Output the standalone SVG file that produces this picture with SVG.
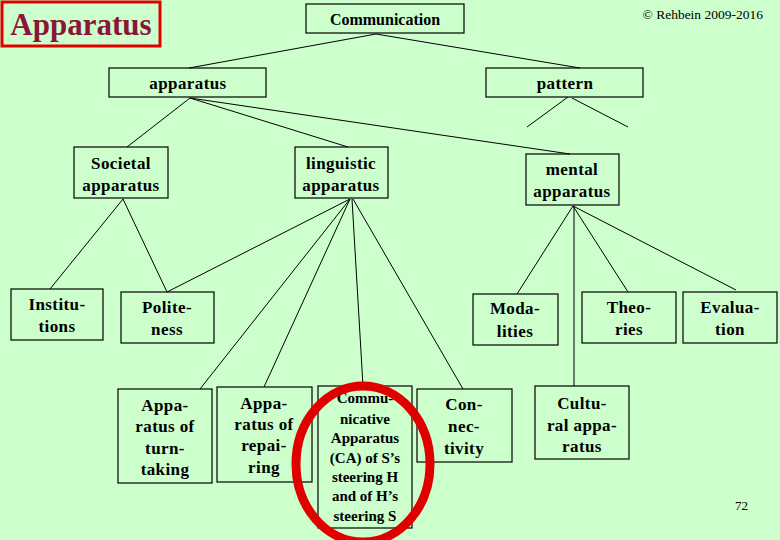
<svg xmlns="http://www.w3.org/2000/svg" width="780" height="540" viewBox="0 0 780 540">
<style>
.box{fill:none;stroke:#000;stroke-width:1.2}
.t{font-family:"Liberation Serif",serif;font-weight:bold;font-size:17px;letter-spacing:0.4px;text-anchor:middle;fill:#000}
.ca{font-family:"Liberation Serif",serif;font-weight:bold;font-size:15px;text-anchor:middle;fill:#000}
.c line{stroke:#000;stroke-width:1}
</style>
<rect width="780" height="540" fill="#CCFFCC"/>
<g id="title">
<rect x="2" y="2" width="158" height="44" fill="none" stroke="#E00000" stroke-width="3"/>
<text x="81" y="35" font-family="Liberation Serif,serif" font-weight="bold" font-size="31" text-anchor="middle" fill="#8B1538">Apparatus</text>
</g>
<text x="763" y="19" font-family="Liberation Serif,serif" font-size="13.5" text-anchor="end" fill="#000">© Rehbein 2009-2016</text>
<text x="748" y="510" font-family="Liberation Serif,serif" font-size="13" text-anchor="end" fill="#000">72</text>
<g class="c" id="connectors">
<line x1="376" y1="34" x2="189" y2="68"/>
<line x1="376" y1="34" x2="580" y2="68"/>
<line x1="568" y1="97" x2="527" y2="127"/>
<line x1="572" y1="98" x2="628" y2="127"/>
<line x1="190" y1="98" x2="127" y2="147"/>
<line x1="190" y1="98" x2="348" y2="147"/>
<line x1="190" y1="98" x2="570" y2="154"/>
<line x1="123" y1="199" x2="50" y2="289"/>
<line x1="123" y1="199" x2="167" y2="292"/>
<line x1="350" y1="199" x2="167" y2="292"/>
<line x1="350" y1="199" x2="200" y2="389"/>
<line x1="350" y1="199" x2="264" y2="387"/>
<line x1="352" y1="199" x2="363" y2="386"/>
<line x1="353" y1="199" x2="463" y2="389"/>
<line x1="573" y1="206" x2="517" y2="294"/>
<line x1="573" y1="206" x2="628" y2="292"/>
<line x1="573" y1="206" x2="736" y2="290"/>
<line x1="574" y1="206" x2="574" y2="386"/>
</g>
<g id="communication"><rect class="box" x="306" y="4" width="158" height="29"/><text class="t" x="385" y="25" style="font-size:16px;letter-spacing:0">Communication</text></g>
<g id="apparatus"><rect class="box" x="109" y="68" width="157" height="29"/><text class="t" x="188" y="89">apparatus</text></g>
<g id="pattern"><rect class="box" x="486" y="68" width="157" height="29"/><text class="t" x="565" y="89">pattern</text></g>
<g id="societal"><rect class="box" x="74" y="147" width="94" height="51"/><text class="t" x="121" y="169">Societal</text><text class="t" x="121" y="191">apparatus</text></g>
<g id="linguistic"><rect class="box" x="295" y="147" width="93" height="51"/><text class="t" x="341" y="169">linguistic</text><text class="t" x="341" y="191">apparatus</text></g>
<g id="mental"><rect class="box" x="526" y="154" width="93" height="51"/><text class="t" x="572" y="175">mental</text><text class="t" x="572" y="197">apparatus</text></g>
<g id="institutions"><rect class="box" x="11" y="289" width="92" height="51"/><text class="t" x="57" y="310">Institu-</text><text class="t" x="57" y="332">tions</text></g>
<g id="politeness"><rect class="box" x="121" y="292" width="93" height="51"/><text class="t" x="167" y="313">Polite-</text><text class="t" x="167" y="335">ness</text></g>
<g id="modalities"><rect class="box" x="473" y="294" width="85" height="51"/><text class="t" x="515" y="314">Moda-</text><text class="t" x="515" y="337">lities</text></g>
<g id="theories"><rect class="box" x="582" y="292" width="94" height="51"/><text class="t" x="629" y="313">Theo-</text><text class="t" x="629" y="335">ries</text></g>
<g id="evaluation"><rect class="box" x="683" y="292" width="94" height="51"/><text class="t" x="730" y="313">Evalua-</text><text class="t" x="730" y="335">tion</text></g>
<g id="turntaking"><rect class="box" x="118" y="389" width="94" height="94"/><text class="t" x="165" y="411">Appa-</text><text class="t" x="165" y="432">ratus of</text><text class="t" x="165" y="454">turn-</text><text class="t" x="165" y="475">taking</text></g>
<g id="repairing"><rect class="box" x="217" y="387" width="95" height="95"/><text class="t" x="264" y="409">Appa-</text><text class="t" x="264" y="430">ratus of</text><text class="t" x="264" y="451">repai-</text><text class="t" x="264" y="473">ring</text></g>
<g id="ca"><rect class="box" x="318" y="386" width="94" height="142"/>
<text class="ca" x="365" y="403">Commu-</text><text class="ca" x="365" y="424">nicative</text><text class="ca" x="365" y="443">Apparatus</text><text class="ca" x="365" y="463">(CA) of S’s</text><text class="ca" x="365" y="482">steering H</text><text class="ca" x="365" y="501">and of H’s</text><text class="ca" x="365" y="521">steering S</text></g>
<g id="connectivity"><rect class="box" x="417" y="389" width="95" height="73"/><text class="t" x="464" y="410">Con-</text><text class="t" x="464" y="432">nec-</text><text class="t" x="464" y="454">tivity</text></g>
<g id="cultural"><rect class="box" x="535" y="386" width="94" height="73"/><text class="t" x="582" y="409">Cultu-</text><text class="t" x="582" y="431">ral appa-</text><text class="t" x="582" y="452">ratus</text></g>
<ellipse id="highlight" cx="363" cy="464" rx="67" ry="78" fill="none" stroke="#E00000" stroke-width="9"/>
</svg>
